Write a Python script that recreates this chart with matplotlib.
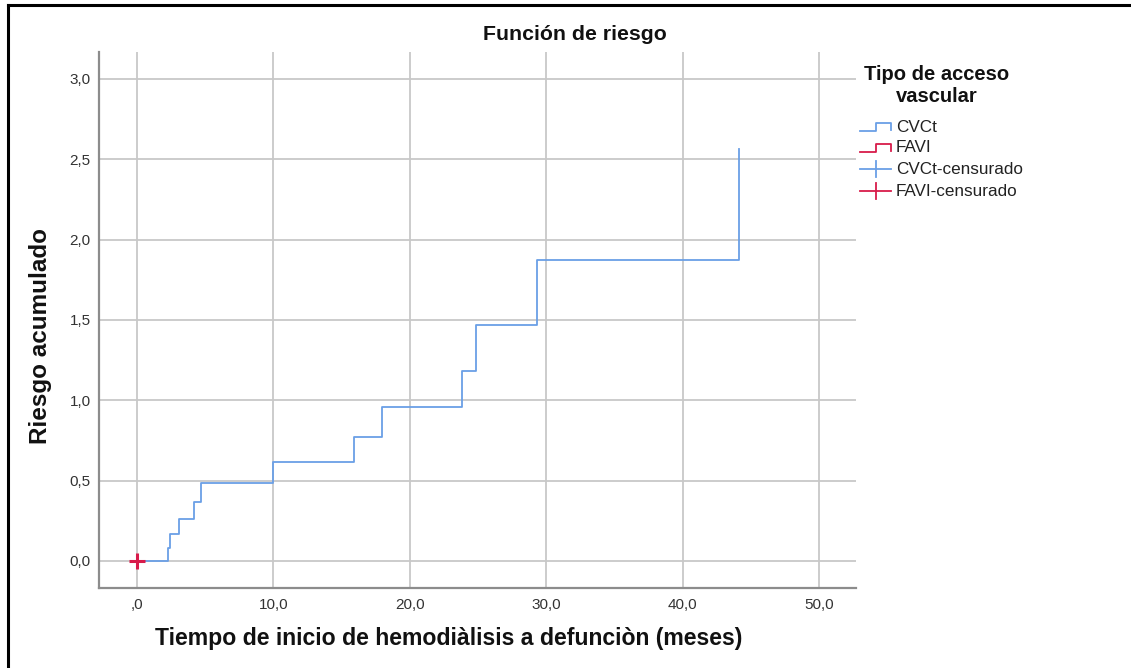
import matplotlib
matplotlib.use("Agg")
import matplotlib.pyplot as plt
from matplotlib.lines import Line2D

plt.rcParams['font.family'] = ['Liberation Sans', 'DejaVu Sans']

# ---- data ----
cvct_time = [0.0, 2.30, 2.42, 3.08, 4.20, 4.69, 9.97, 15.90, 17.98, 23.83, 24.85, 29.33, 44.13]
cvct_risk = [0.0, 0.079, 0.168, 0.261, 0.369, 0.487, 0.618, 0.774, 0.956, 1.18, 1.47, 1.873, 2.566]
favi_cens_time = [0.0]
favi_cens_risk = [0.0]
x_ticks = [0, 10, 20, 30, 40, 50]
x_labels = [",0", "10,0", "20,0", "30,0", "40,0", "50,0"]
y_ticks = [0.0, 0.5, 1.0, 1.5, 2.0, 2.5, 3.0]
y_labels = ["0,0", "0,5", "1,0", "1,5", "2,0", "2,5", "3,0"]
legend_labels = ["CVCt", "FAVI", "CVCt-censurado", "FAVI-censurado"]

BLUE = "#6a9fe6"
RED = "#d81b4a"
W, H = 1131, 668

fig = plt.figure(figsize=(W / 100, H / 100), dpi=100)
ax = fig.add_axes([99 / W, 1 - 588 / H, (856 - 99) / W, (588 - 52) / H])

ax.step(cvct_time, cvct_risk, where='post', color=BLUE, lw=1.3, zorder=3)
ax.plot(favi_cens_time, favi_cens_risk, linestyle='none', marker='+', color=RED,
        markersize=12, markeredgewidth=2.2, zorder=4)

ax.set_xlim(-2.79, 52.7)
ax.set_ylim(-0.168, 3.167)
ax.set_xticks(x_ticks)
ax.set_xticklabels(x_labels)
ax.set_yticks(y_ticks)
ax.set_yticklabels(y_labels)
ax.tick_params(length=0, labelsize=11, labelcolor="#333333")
ax.tick_params(axis='x', pad=7)
ax.tick_params(axis='y', pad=6)
ax.grid(True, color="#c8c8c8", lw=1.3)
ax.set_axisbelow(True)
for s in ['top', 'right']:
    ax.spines[s].set_visible(False)
for s in ['left', 'bottom']:
    ax.spines[s].set_color("#8c8c8c")
    ax.spines[s].set_linewidth(1.6)

# texts
fig.text(575 / W, 1 - 35 / H, "Función de riesgo", ha='center', va='center',
         fontsize=15.3, color="#111111", fontweight='bold')
fig.text(41 / W, 1 - 336 / H, "Riesgo acumulado", ha='center', va='center',
         rotation=90, fontsize=17.5, fontweight='bold', color="#111111")
fig.text(449 / W, 1 - 639 / H, "Tiempo de inicio de hemodiàlisis a defunciòn (meses)",
         ha='center', va='center', fontsize=16.6, fontweight='bold', color="#111111")

# overlay in pixel coordinates for legend and frame
ov = fig.add_axes([0, 0, 1, 1], zorder=5)
ov.set_xlim(0, W)
ov.set_ylim(H, 0)
ov.axis('off')
ov.patch.set_alpha(0)

ov.text(937, 75, "Tipo de acceso", ha='center', va='center',
        fontsize=14.5, fontweight='bold', color="#111111")
ov.text(937, 97, "vascular", ha='center', va='center',
        fontsize=14.5, fontweight='bold', color="#111111")
entry_y = [127, 148, 169, 191]
colors = [BLUE, RED, BLUE, RED]
for i, (lab, yy, c) in enumerate(zip(legend_labels, entry_y, colors)):
    if i < 2:
        ov.add_line(Line2D([860, 876, 876, 891, 891], [yy + 4, yy + 4, yy - 4, yy - 4, yy + 3],
                           color=c, lw=1.3))
    else:
        ov.add_line(Line2D([860, 891], [yy, yy], color=c, lw=1.3))
        ov.add_line(Line2D([875.5, 875.5], [yy - 8, yy + 8], color=c, lw=1.3))
    ov.text(896, yy, lab, ha='left', va='center', fontsize=12.3, color="#222222")

# frame lines
ov.add_line(Line2D([8, W], [5, 5], color='black', lw=2.2))
ov.add_line(Line2D([8, 8], [5, H], color='black', lw=2.2))

fig.savefig("out.png", dpi=100)
